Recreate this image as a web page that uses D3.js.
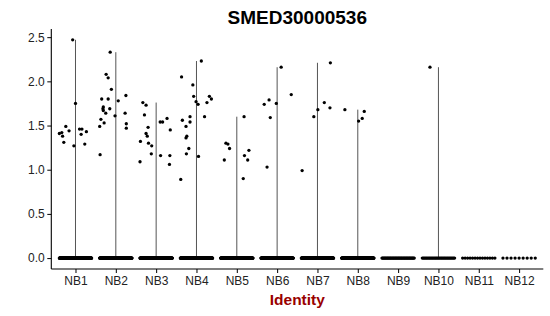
<!DOCTYPE html>
<html>
<head>
<meta charset="utf-8">
<script src="https://cdn.jsdelivr.net/npm/d3@7"></script>
<style>
  body { margin: 0; background: #fff; }
  svg { display: block; font-family: "Liberation Sans", Arial, sans-serif; }
</style>
</head>
<body>
<svg id="chart" width="550" height="316"></svg>
<script>
// Identity groups on the x axis
const groups = ["NB1", "NB2", "NB3", "NB4", "NB5", "NB6", "NB7", "NB8", "NB9", "NB10", "NB11", "NB12"];

// Non-zero expression values per group
const exprValues = [
  [2.47, 1.75, 1.41, 1.42, 1.38, 1.49, 1.31, 1.44, 1.27, 1.46, 1.46, 1.40, 1.43, 1.29],
  [1.17, 1.49, 1.57, 1.80, 1.53, 1.69, 1.67, 2.08, 2.04, 1.64, 1.80, 1.69, 2.33, 1.91, 1.61, 1.78, 1.84, 1.64, 1.52, 1.47, 1.71],
  [1.76, 1.73, 1.32, 1.09, 1.62, 1.48, 1.41, 1.38, 1.30, 1.27, 1.18, 1.16, 1.54, 1.54, 1.58, 1.45, 1.16, 1.06],
  [2.05, 1.56, 0.89, 1.49, 1.38, 1.36, 1.18, 1.24, 1.60, 1.54, 1.96, 1.83, 1.77, 1.74, 2.23, 1.15, 1.60, 1.76, 1.83, 1.80],
  [1.11, 1.30, 1.29, 1.24, 1.60, 1.16, 1.22, 1.11, 0.90],
  [1.74, 1.79, 1.59, 1.03, 1.75, 2.16, 1.85],
  [0.99, 1.60, 1.68, 1.76, 2.21, 1.70],
  [1.68, 1.55, 1.58, 1.66],
  [],
  [2.16],
  [],
  []
];

// Horizontal jitter of those points, in category units
const exprJitter = [
  [-0.07, 0.00, -0.40, -0.34, -0.32, -0.24, -0.29, -0.16, -0.04, 0.10, 0.16, 0.14, 0.27, 0.23],
  [-0.39, -0.40, -0.37, -0.35, -0.29, -0.32, -0.31, -0.24, -0.19, -0.25, -0.19, -0.15, -0.14, -0.11, -0.02, 0.06, 0.25, 0.23, 0.26, 0.26, -0.31],
  [-0.33, -0.25, -0.39, -0.40, -0.29, -0.20, -0.25, -0.22, -0.19, -0.11, -0.12, 0.11, 0.10, 0.16, 0.27, 0.35, 0.34, 0.33],
  [-0.37, -0.35, -0.39, -0.26, -0.24, -0.26, -0.25, -0.19, -0.16, -0.16, -0.09, -0.07, -0.01, 0.04, 0.12, 0.05, 0.20, 0.26, 0.32, 0.37],
  [-0.31, -0.27, -0.22, -0.18, 0.18, 0.19, 0.30, 0.27, 0.16],
  [-0.32, -0.20, -0.17, -0.25, -0.02, 0.10, 0.35],
  [-0.38, -0.09, 0.01, 0.17, 0.32, 0.31],
  [-0.32, 0.02, 0.11, 0.16],
  [],
  [-0.21],
  [],
  []
];

// Number of cells with zero expression per group
const zeroCounts = [220, 220, 220, 220, 220, 200, 200, 200, 45, 32, 14, 9];

const yTicks = [0, 0.5, 1.0, 1.5, 2.0, 2.5];

const svg = d3.select("#chart");
const margin = { left: 51.3, right: 6.7, top: 28.9, bottom: 47 };
const width = 550, height = 316;

const x = d3.scalePoint()
  .domain(groups)
  .range([margin.left, width - margin.right])
  .padding(0.6);
const step = x.step();

const yMax = d3.max(exprValues.flat());
const pad = yMax * 0.05;
const y = d3.scaleLinear()
  .domain([-pad, yMax + pad])
  .range([height - margin.bottom, margin.top]);

// violins (degenerate: just a line from 0 to max)
groups.forEach((g, i) => {
  if (!exprValues[i].length) return;
  const top = d3.max(exprValues[i]);
  svg.append("line")
    .attr("x1", x(g)).attr("x2", x(g))
    .attr("y1", y(0)).attr("y2", y(top))
    .attr("stroke", "#555")
    .attr("stroke-width", 1);
});

// points
const pts = [];
groups.forEach((g, i) => {
  const n = zeroCounts[i];
  for (let k = 0; k < n; k++) {
    const off = n > 1 ? -0.4 + 0.8 * k / (n - 1) : 0;
    pts.push({ g: g, v: 0, j: off });
  }
  exprValues[i].forEach((v, k) => pts.push({ g: g, v: v, j: exprJitter[i][k] }));
});

svg.append("g")
  .selectAll("circle")
  .data(pts)
  .join("circle")
    .attr("cx", d => x(d.g) + d.j * step)
    .attr("cy", d => y(d.v))
    .attr("r", 1.65)
    .attr("fill", "#000");

// axes
const yAxis = svg.append("g")
  .attr("transform", `translate(${margin.left},0)`)
  .call(d3.axisLeft(y).tickValues(yTicks).tickFormat(d3.format(".1f")).tickSize(4).tickPadding(2.5));

const xAxis = svg.append("g")
  .attr("transform", `translate(0,${height - margin.bottom})`)
  .call(d3.axisBottom(x).tickSize(4).tickPadding(3).tickSizeOuter(0));

[yAxis, xAxis].forEach(a => {
  a.select(".domain").attr("stroke", "#000").attr("stroke-width", 1.1);
  a.selectAll(".tick line").attr("stroke", "#000");
  a.selectAll("text")
    .attr("fill", "#222")
    .style("font-size", "12px")
    .style("font-family", "Liberation Sans, Arial, sans-serif");
});
// extend axis lines to the panel corners
yAxis.select(".domain").attr("d", `M0,${margin.top}V${height - margin.bottom}`);
xAxis.select(".domain").attr("d", `M${margin.left},0H${width - margin.right}`);

const midX = (margin.left + width - margin.right) / 2;

svg.append("text")
  .attr("x", midX)
  .attr("y", 23.5)
  .attr("text-anchor", "middle")
  .attr("font-weight", "bold")
  .style("font-size", "19px")
  .text("SMED30000536");

svg.append("text")
  .attr("x", midX)
  .attr("y", 305)
  .attr("text-anchor", "middle")
  .attr("font-weight", "bold")
  .attr("fill", "#990000")
  .style("font-size", "15.5px")
  .text("Identity");
</script>
</body>
</html>
